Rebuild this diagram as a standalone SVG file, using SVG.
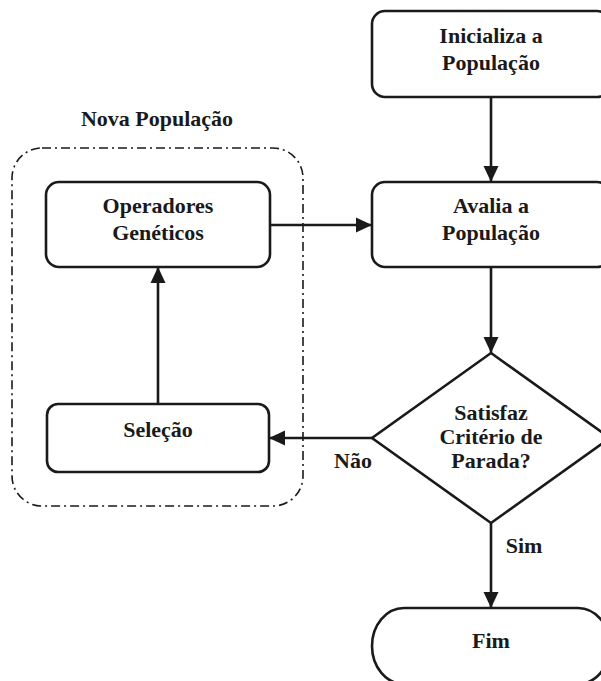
<svg xmlns="http://www.w3.org/2000/svg" width="601" height="681" viewBox="0 0 601 681">
<defs>
<style>
.box{fill:#fff;stroke:#1a1a1a;stroke-width:2.6}
.cont{fill:none;stroke:#1a1a1a;stroke-width:1.6;stroke-dasharray:9 4 2 4}
.edge{fill:none;stroke:#1a1a1a;stroke-width:2.6}
text{font-family:"Liberation Serif","Times New Roman",serif;font-weight:bold;font-size:22px;fill:#1a1a1a;text-anchor:middle}
</style>
<marker id="ah" markerUnits="userSpaceOnUse" markerWidth="16" markerHeight="16" viewBox="0 0 16 16" refX="16" refY="8" orient="auto">
<path d="M0,0.5 L16,8 L0,15.5 Z" fill="#1a1a1a"/>
</marker>
</defs>
<g id="container">
<rect class="cont" x="12" y="148" width="291" height="358" rx="30" ry="30"/>
<text x="157" y="126">Nova População</text>
</g>
<g id="connectors">
<path class="edge" d="M491,97 L491,182" marker-end="url(#ah)"/>
<path class="edge" d="M270,225 L372,225" marker-end="url(#ah)"/>
<path class="edge" d="M158,404 L158,267" marker-end="url(#ah)"/>
<path class="edge" d="M491,267 L491,353" marker-end="url(#ah)"/>
<path class="edge" d="M372,438 L269,438" marker-end="url(#ah)"/>
<path class="edge" d="M491,523 L491,608" marker-end="url(#ah)"/>
<text x="353" y="468">Não</text>
<text x="524" y="553">Sim</text>
</g>
<g id="inicializa">
<rect class="box" x="372" y="11" width="238" height="86" rx="13" ry="13"/>
<text x="491" y="43">Inicializa a</text>
<text x="491" y="70">População</text>
</g>
<g id="avalia">
<rect class="box" x="372" y="182" width="238" height="85" rx="13" ry="13"/>
<text x="491" y="213">Avalia a</text>
<text x="491" y="240">População</text>
</g>
<g id="operadores">
<rect class="box" x="46" y="182" width="224" height="85" rx="13" ry="13"/>
<text x="158" y="213">Operadores</text>
<text x="158" y="240">Genéticos</text>
</g>
<g id="selecao">
<rect class="box" x="47" y="404" width="222" height="68" rx="11" ry="11"/>
<text x="158" y="437">Seleção</text>
</g>
<g id="criterio">
<path class="box" d="M491,353 L610,438 L491,523 L372,438 Z"/>
<text x="491" y="420">Satisfaz</text>
<text x="491" y="444">Critério de</text>
<text x="491" y="468">Parada?</text>
</g>
<g id="fim">
<rect class="box" x="372" y="608" width="238" height="76" rx="32" ry="38"/>
<text x="491" y="648">Fim</text>
</g>
</svg>
